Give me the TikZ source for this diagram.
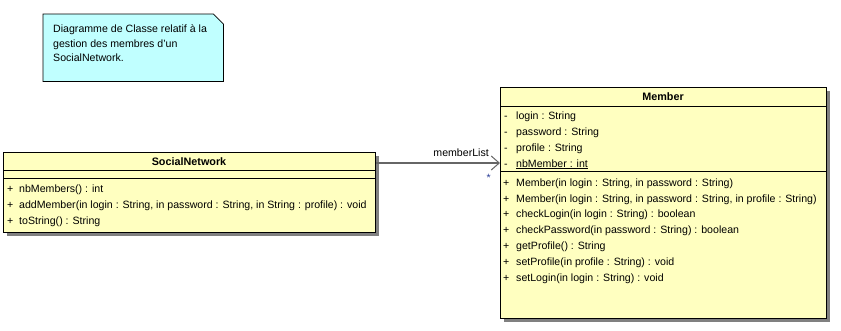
\documentclass[tikz,border=0pt]{standalone}
\usepackage{fontspec}
\setmainfont{Liberation Sans}
\usetikzlibrary{arrows.meta,shadows}
\definecolor{notefill}{RGB}{192,255,255}
\definecolor{classfill}{RGB}{255,255,192}
\definecolor{shade}{RGB}{128,128,128}
\definecolor{multcol}{RGB}{40,60,150}
\tikzset{
  classbox/.style={draw=black, fill=classfill, line width=1pt, anchor=north west,
    inner sep=0pt, drop shadow={shadow xshift=3pt, shadow yshift=-3pt, fill=shade, opacity=1}},
  notebox/.style={anchor=north west, inner sep=0pt},
  txt/.style={anchor=base west, inner sep=0pt, font=\fontsize{10.6}{13}\selectfont},
  title/.style={anchor=base, inner sep=0pt, font=\fontsize{10.8}{13}\selectfont\bfseries},
  sep/.style={line width=1pt},
  assoc/.style={draw=shade!80!black, line width=1.6pt, -{Straight Barb[length=8pt,width=14pt,line width=1pt]}},
}
\begin{document}
\begin{tikzpicture}[x=1pt,y=-1pt]
\useasboundingbox (0,0) rectangle (841,330);

% note
\node[notebox, minimum width=180pt, minimum height=67pt] (note) at (43,14) {};
\draw[fill=notefill, line width=0.8pt] (note.north west) -- ([xshift=-10pt]note.north east)
  -- ([yshift=-10pt]note.north east) -- (note.south east) -- (note.south west) -- cycle;
\node[txt] (n1) at (53,32) {Diagramme de Classe relatif à la};
\node[txt] (n2) at (53,47) {gestion des membres d'un};
\node[txt] (n3) at (53,61) {SocialNetwork.};

% SocialNetwork class
\node[classbox, minimum width=372pt, minimum height=80pt] (sn) at (3,152) {};
\draw[sep] ([yshift=-18pt]sn.north west) -- ([yshift=-18pt]sn.north east);
\draw[sep] ([yshift=-26pt]sn.north west) -- ([yshift=-26pt]sn.north east);
\node[title] (snt) at (189,165) {SocialNetwork};
\foreach \t [count=\i] in {{nbMembers() : int},
    {addMember(in login : String, in password : String, in String : profile) : void},
    {toString() : String}} {
  \node[txt] (snv\i) at (7,176+\i*16) {+};
  \node[txt] (snm\i) at (19,176+\i*16) {\t};
}

% Member class
\node[classbox, minimum width=326pt, minimum height=231pt] (mem) at (500,87) {};
\draw[sep] ([yshift=-19pt]mem.north west) -- ([yshift=-19pt]mem.north east);
\draw[sep] ([yshift=-84pt]mem.north west) -- ([yshift=-84pt]mem.north east);
\node[title] (memt) at (663,100) {Member};
\foreach \t [count=\i] in {{login : String}, {password : String}, {profile : String},
    {\underline{nbMember : int}}} {
  \node[txt] (mav\i) at (504,103+\i*16) {-};
  \node[txt] (ma\i) at (516,103+\i*16) {\t};
}
\foreach \t [count=\i] in {{Member(in login : String, in password : String)},
    {Member(in login : String, in password : String, in profile : String)},
    {checkLogin(in login : String) : boolean},
    {checkPassword(in password : String) : boolean},
    {getProfile() : String},
    {setProfile(in profile : String) : void},
    {setLogin(in login : String) : void}} {
  \node[txt] (mov\i) at (503,170.5+\i*15.8) {+};
  \node[txt] (mo\i) at (516,170.5+\i*15.8) {\t};
}

% association SocialNetwork -> Member
\draw[assoc] ([yshift=-11pt]sn.north east) -- ([yshift=-76pt]mem.north west);
\node[txt, anchor=base east] (role) at (489,156) {memberList};
\node[txt, anchor=base east, text=multcol] (mult) at (491,181) {*};
\end{tikzpicture}
\end{document}
